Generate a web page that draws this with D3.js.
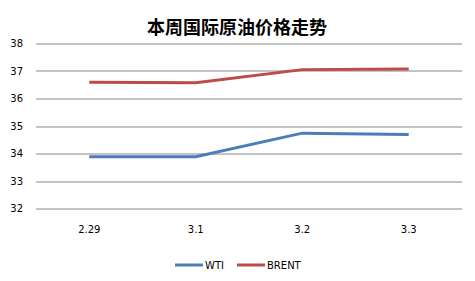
<!DOCTYPE html>
<html>
<head>
<meta charset="utf-8">
<script src="https://cdn.jsdelivr.net/npm/d3@7"></script>
<style>
  body { margin: 0; background: #fff; }
  .tick text { font-family: "DejaVu Sans", sans-serif; font-size: 10px; fill: #000; }
</style>
</head>
<body>
<svg id="chart" width="475" height="281"></svg>
<script>
var categories = ["2.29", "3.1", "3.2", "3.3"];
var wti = [33.88, 33.88, 34.74, 34.69];
var brent = [36.59, 36.57, 37.05, 37.07];
var yTicks = [32, 33, 34, 35, 36, 37, 38];

var series = [
    { name: "WTI", values: wti, color: "#4a7ebb" },
    { name: "BRENT", values: brent, color: "#be4b48" }
];

var svg = d3.select("#chart");
var margin = { left: 36, right: 13, top: 43.5, bottom: 72.5 };
var width = 475 - margin.left - margin.right;
var height = 281 - margin.top - margin.bottom;

var g = svg.append("g")
    .attr("transform", "translate(" + margin.left + "," + margin.top + ")");

var x = d3.scaleBand().domain(categories).range([0, width]);
var y = d3.scaleLinear().domain([32, 38]).range([height, 0]);

// gridlines
g.selectAll(".grid")
    .data(yTicks)
  .enter().append("line")
    .attr("class", "grid")
    .attr("x1", 0)
    .attr("x2", width)
    .attr("y1", function (d) { return Math.round(y(d)) + 0.5; })
    .attr("y2", function (d) { return Math.round(y(d)) + 0.5; })
    .attr("stroke", "#878787")
    .attr("stroke-width", 1);

var yAxis = g.append("g")
    .call(d3.axisLeft(y).tickValues(yTicks).tickFormat(d3.format("d")).tickSize(0).tickPadding(13));
yAxis.select(".domain").remove();

var xAxis = g.append("g")
    .attr("transform", "translate(0," + height + ")")
    .call(d3.axisBottom(x).tickSize(0).tickPadding(17));
xAxis.select(".domain").remove();

var line = d3.line()
    .x(function (d, i) { return x(categories[i]) + x.bandwidth() / 2; })
    .y(function (d) { return y(d); });

g.selectAll(".series")
    .data(series)
  .enter().append("path")
    .attr("class", "series")
    .attr("d", function (d) { return line(d.values); })
    .attr("fill", "none")
    .attr("stroke", function (d) { return d.color; })
    .attr("stroke-width", 3);

// title
svg.append("text")
    .attr("x", 237)
    .attr("y", 34)
    .attr("text-anchor", "middle")
    .style("font-family", "'Noto Sans CJK SC', sans-serif")
    .style("font-weight", "bold")
    .style("font-size", "18px")
    .text("本周国际原油价格走势");

// legend
var legendPos = [175, 237];
var legend = svg.selectAll(".legend")
    .data(series)
  .enter().append("g")
    .attr("class", "legend")
    .attr("transform", function (d, i) { return "translate(" + legendPos[i] + ",265)"; });

legend.append("line")
    .attr("x1", 0).attr("x2", 28)
    .attr("y1", 0).attr("y2", 0)
    .attr("stroke", function (d) { return d.color; })
    .attr("stroke-width", 3);

legend.append("text")
    .attr("x", 30)
    .attr("y", 4)
    .style("font-family", "'DejaVu Sans', sans-serif")
    .style("font-size", "10px")
    .text(function (d) { return d.name; });
</script>
</body>
</html>
